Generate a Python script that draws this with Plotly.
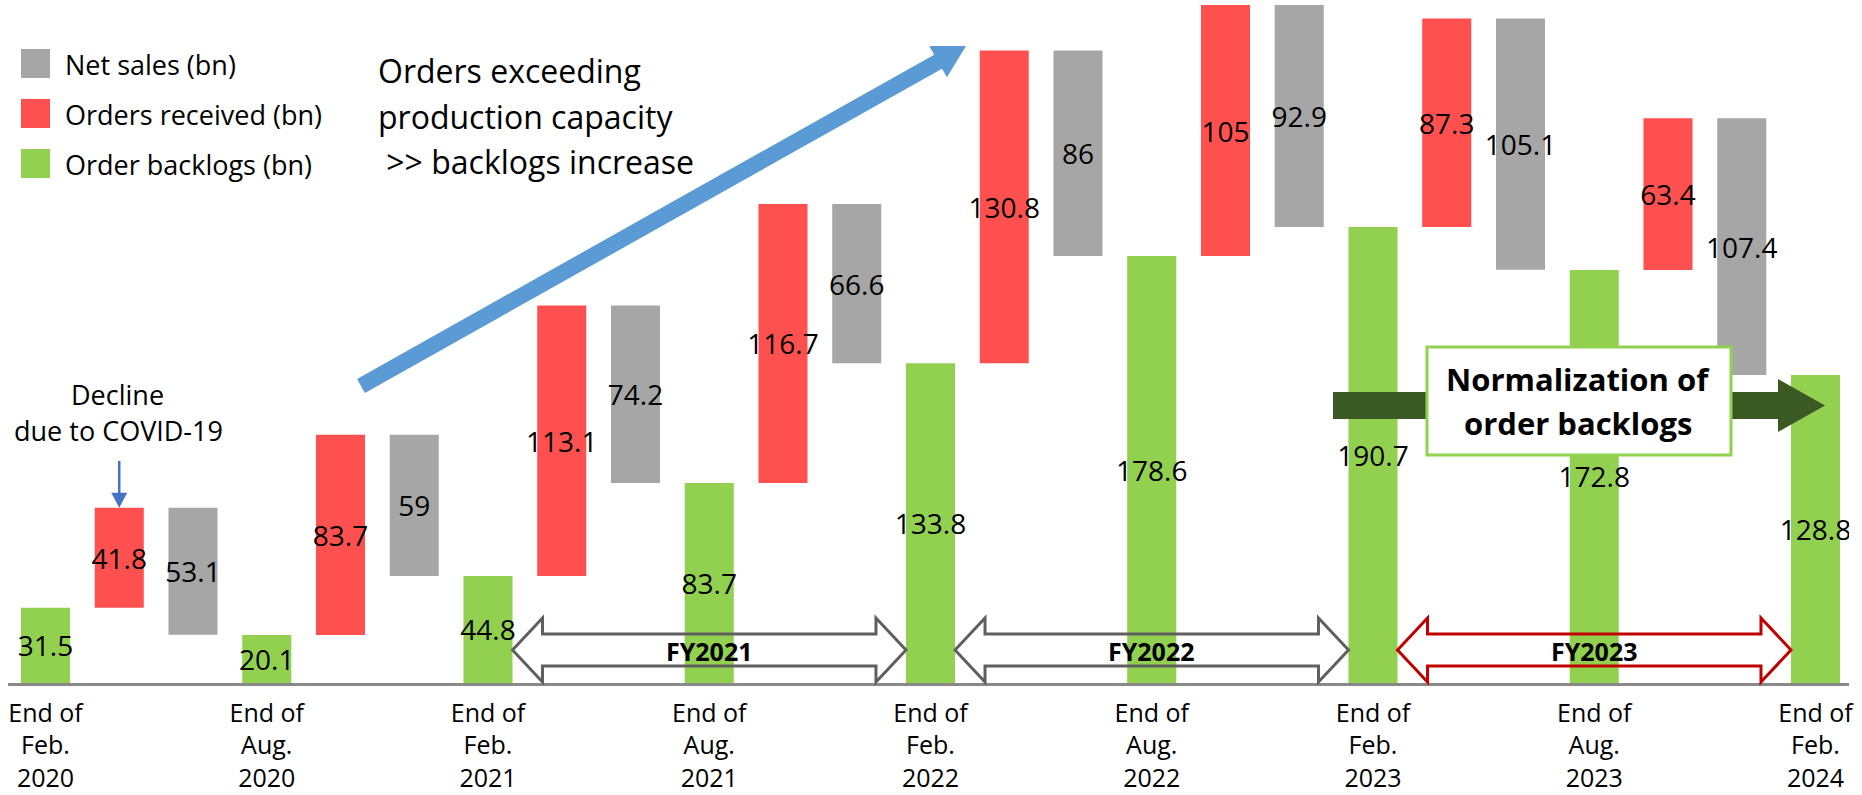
import math
import plotly.graph_objects as go

# ---- data (billions of yen) ----
periods = [
    "End of<br>Feb.<br>2020", "End of<br>Aug.<br>2020", "End of<br>Feb.<br>2021",
    "End of<br>Aug.<br>2021", "End of<br>Feb.<br>2022", "End of<br>Aug.<br>2022",
    "End of<br>Feb.<br>2023", "End of<br>Aug.<br>2023", "End of<br>Feb.<br>2024",
]
order_backlogs = [31.5, 20.1, 44.8, 83.7, 133.8, 178.6, 190.7, 172.8, 128.8]
orders_received = [41.8, 83.7, 113.1, 116.7, 130.8, 105, 87.3, 63.4]
net_sales = [53.1, 59, 74.2, 66.6, 86, 92.9, 105.1, 107.4]
fiscal_years = ["FY2021", "FY2022", "FY2023"]
fiscal_year_spans = [(2, 4), (4, 6), (6, 8)]  # backlog index at start / end of each FY

# ---- page geometry ----
W, H = 1862, 795
ML, MR, MT, MB = 8, 13, 0, 112
PW, PH = W - ML - MR, H - MT - MB
SLOT_PX = 73.75          # horizontal pixels per bar slot
X0_PX = 45.5             # pixel centre of the first slot
BAR_W = 0.665
X_RANGE = [(ML - X0_PX) / SLOT_PX, (W - MR - X0_PX) / SLOT_PX]
Y_RANGE = [0, 285.7]

FONT = "Open Sans"
GREEN, RED, GRAY = "#92D050", "#FF5050", "#A6A6A6"


def px(xp):
    return (xp - ML) / PW


def py(yp):
    return (H - MB - yp) / PH


def slot_px(s):
    return X0_PX + SLOT_PX * s


def path(points):
    return "M " + " L ".join(f"{px(a):.5f},{py(b):.5f}" for a, b in points) + " Z"


# ---- bar positions: backlog, orders, sales for each half year ----
green_x = [3 * i for i in range(len(order_backlogs))]
red_x = [3 * i + 1 for i in range(len(orders_received))]
gray_x = [3 * i + 2 for i in range(len(net_sales))]
red_base = order_backlogs[:-1]
gray_base = [b + o - s for b, o, s in zip(order_backlogs, orders_received, net_sales)]

fmt = lambda vals: [f"{v:g}" for v in vals]
common = dict(
    width=BAR_W, textposition="inside", insidetextanchor="middle", textangle=0,
    constraintext="none", textfont=dict(family=FONT, size=28, color="black"),
    showlegend=False, hoverinfo="skip", marker_line_width=0,
)

fig = go.Figure()
fig.add_bar(x=green_x, y=order_backlogs, marker_color=GREEN,
            text=fmt(order_backlogs), name="Order backlogs (bn)", **common)
fig.add_bar(x=red_x, y=orders_received, base=red_base, marker_color=RED,
            text=fmt(orders_received), name="Orders received (bn)", **common)
fig.add_bar(x=gray_x, y=net_sales, base=gray_base, marker_color=GRAY,
            text=fmt(net_sales), name="Net sales (bn)", **common)

shapes = []
annotations = []

# ---- legend ----
legend_items = [("Net sales (bn)", GRAY), ("Orders received (bn)", RED), ("Order backlogs (bn)", GREEN)]
for k, (label, color) in enumerate(legend_items):
    yc = 63.5 + 50 * k
    shapes.append(dict(type="rect", xref="paper", yref="paper",
                       x0=px(21), x1=px(50), y0=py(yc - 14.5), y1=py(yc + 14.5),
                       fillcolor=color, line_width=0, layer="above"))
    annotations.append(dict(text=label, xref="paper", yref="paper", x=px(63), y=py(yc + 1),
                            xanchor="left", yanchor="middle", showarrow=False,
                            font=dict(family=FONT, size=27, color="black")))

# ---- blue trend arrow ----
tail, tip = (361, 386), (966, 46)
dx, dy = tip[0] - tail[0], tip[1] - tail[1]
ln = math.hypot(dx, dy)
ux, uy = dx / ln, dy / ln
nx, ny = -uy, ux
hl, hw, sw = 32, 18, 8
bx, by = tip[0] - ux * hl, tip[1] - uy * hl
blue_pts = [
    (tail[0] + nx * sw, tail[1] + ny * sw), (bx + nx * sw, by + ny * sw),
    (bx + nx * hw, by + ny * hw), tip, (bx - nx * hw, by - ny * hw),
    (bx - nx * sw, by - ny * sw), (tail[0] - nx * sw, tail[1] - ny * sw),
]
shapes.append(dict(type="path", xref="paper", yref="paper", path=path(blue_pts),
                   fillcolor="#5B9BD5", line_width=0, layer="above"))

for k, (txt, yc) in enumerate([("Orders exceeding", 71), ("production capacity", 116),
                               ("\u00a0>> backlogs increase", 161)]):
    annotations.append(dict(text=txt, xref="paper", yref="paper", x=px(376), y=py(yc),
                            xanchor="left", yanchor="middle", showarrow=False,
                            font=dict(family=FONT, size=32, color="black")))

# ---- COVID-19 note with small arrow onto the first orders bar ----
ax_px = slot_px(red_x[0])
top_px = (H - MB) - (order_backlogs[0] + orders_received[0]) / Y_RANGE[1] * PH
shapes.append(dict(type="line", xref="paper", yref="paper",
                   x0=px(ax_px), x1=px(ax_px), y0=py(461), y1=py(top_px - 12),
                   line=dict(color="#4472C4", width=2.5), layer="above"))
shapes.append(dict(type="path", xref="paper", yref="paper",
                   path=path([(ax_px - 8, top_px - 15), (ax_px + 8, top_px - 15), (ax_px, top_px)]),
                   fillcolor="#4472C4", line_width=0, layer="above"))
annotations.append(dict(text="Decline", xref="paper", yref="paper", x=px(117), y=py(394),
                        xanchor="center", yanchor="middle", showarrow=False,
                        font=dict(family=FONT, size=27, color="black")))
annotations.append(dict(text="due to COVID-19", xref="paper", yref="paper", x=px(118), y=py(430),
                        xanchor="center", yanchor="middle", showarrow=False,
                        font=dict(family=FONT, size=27, color="black")))

# ---- fiscal-year double arrows along the baseline ----
half_bar_px = BAR_W * SLOT_PX / 2
fy_colors = ["#5F5F5F", "#5F5F5F", "#C00000"]
for label, (a, b), col in zip(fiscal_years, fiscal_year_spans, fy_colors):
    x0 = slot_px(green_x[a]) + half_bar_px
    x1 = slot_px(green_x[b]) - half_bar_px
    yc, hlen, hh, sh = 650, 30, 32, 16
    pts = [(x0, yc), (x0 + hlen, yc - hh), (x0 + hlen, yc - sh), (x1 - hlen, yc - sh),
           (x1 - hlen, yc - hh), (x1, yc), (x1 - hlen, yc + hh), (x1 - hlen, yc + sh),
           (x0 + hlen, yc + sh), (x0 + hlen, yc + hh)]
    shapes.append(dict(type="path", xref="paper", yref="paper", path=path(pts),
                       fillcolor="rgba(0,0,0,0)", line=dict(color=col, width=3), layer="above"))
    annotations.append(dict(text=f"<b>{label}</b>", xref="paper", yref="paper",
                            x=px((x0 + x1) / 2), y=py(651), xanchor="center", yanchor="middle",
                            showarrow=False, font=dict(family=FONT, size=25, color="black")))

# ---- normalization arrow and callout box ----
g_pts = [(1333, 392), (1778, 392), (1778, 379), (1825, 405.5), (1778, 432), (1778, 419), (1333, 419)]
shapes.append(dict(type="path", xref="paper", yref="paper", path=path(g_pts),
                   fillcolor="#3B5A23", line_width=0, layer="above"))
shapes.append(dict(type="rect", xref="paper", yref="paper",
                   x0=px(1427), x1=px(1731), y0=py(455), y1=py(347),
                   fillcolor="white", line=dict(color=GREEN, width=3), layer="above"))
for txt, yc in [("Normalization of", 379), ("order backlogs", 423)]:
    annotations.append(dict(text=f"<b>{txt}</b>", xref="paper", yref="paper", x=px(1578), y=py(yc),
                            xanchor="center", yanchor="middle", showarrow=False,
                            font=dict(family=FONT, size=31, color="black")))

fig.update_layout(
    width=W, height=H, margin=dict(l=ML, r=MR, t=MT, b=MB, autoexpand=False),
    paper_bgcolor="white", plot_bgcolor="white", barmode="overlay", showlegend=False,
    font=dict(family=FONT, color="black"),
    shapes=shapes, annotations=annotations,
    xaxis=dict(range=X_RANGE, tickmode="array", tickvals=green_x, ticktext=periods,
               showgrid=False, zeroline=False, showline=True, linecolor="#898989",
               linewidth=2.5, ticks="", tickfont=dict(family=FONT, size=25, color="black"),
               ticklabelstandoff=6, automargin=False, fixedrange=True),
    yaxis=dict(range=Y_RANGE, visible=False, automargin=False, fixedrange=True),
)

fig.write_html("out.html", config={"displayModeBar": False})
